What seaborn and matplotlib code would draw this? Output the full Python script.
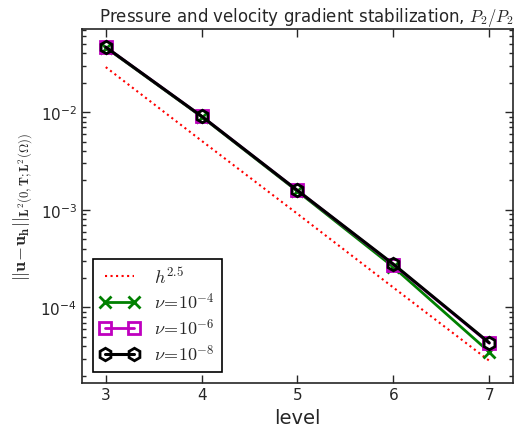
import numpy as np
import pandas as pd
import seaborn as sns
import matplotlib.pyplot as plt

levels = [3, 4, 5, 6, 7]
ref_h25 = [2.9e-2, 5.1e-3, 9.1e-4, 1.6e-4, 2.85e-5]
err_nu4 = [4.6e-2, 9.0e-3, 1.55e-3, 2.6e-4, 3.5e-5]
err_nu6 = [4.65e-2, 9.1e-3, 1.58e-3, 2.75e-4, 4.3e-5]
err_nu8 = [4.65e-2, 9.1e-3, 1.58e-3, 2.78e-4, 4.35e-5]


def main():
    sns.set_style("ticks")
    plt.rcParams['mathtext.fontset'] = 'cm'
    plt.rcParams['font.family'] = ['DejaVu Sans']
    plt.rcParams['xtick.direction'] = 'in'
    plt.rcParams['ytick.direction'] = 'in'
    plt.rcParams['xtick.top'] = True
    plt.rcParams['ytick.right'] = True

    fig, ax = plt.subplots(figsize=(5.21, 4.31), dpi=100)
    fig.subplots_adjust(left=0.157, right=0.985, top=0.93, bottom=0.11)

    sns.lineplot(ax=ax, x=levels, y=ref_h25, color='red', linestyle=':',
                 linewidth=1.5, label=r'$h^{2.5}$')
    sns.lineplot(ax=ax, x=levels, y=err_nu4, color='green', marker='x',
                 markersize=9, markeredgewidth=2, markeredgecolor='green',
                 linewidth=2, label=r'$\nu\!=\!10^{-4}$')
    sns.lineplot(ax=ax, x=levels, y=err_nu6, color='m', marker='s',
                 markersize=9, markeredgewidth=2, markerfacecolor='none',
                 markeredgecolor='m', linewidth=2, label=r'$\nu\!=\!10^{-6}$')
    sns.lineplot(ax=ax, x=levels, y=err_nu8, color='black', marker='h',
                 markersize=9, markeredgewidth=2, markerfacecolor='none',
                 markeredgecolor='black', linewidth=2.2,
                 label=r'$\nu\!=\!10^{-8}$')

    ax.set(yscale="log")
    ax.set_xlim(2.75, 7.25)
    ax.set_ylim(1.7e-5, 7.1e-2)
    ax.set_xticks(levels)
    ax.tick_params(which='major', length=6, width=1, labelsize=11)
    ax.tick_params(which='minor', length=3, width=1)
    for s in ax.spines.values():
        s.set_linewidth(1.2)
    ax.set_xlabel('level', fontsize=14)
    ax.set_ylabel(r'$||\mathbf{u}\!-\!\mathbf{u_h}||_{\mathbf{L}^2(0,\mathbf{T};\mathbf{L}^2(\Omega))}$',
                  fontsize=13)
    ax.set_title(r'Pressure and velocity gradient stabilization, $P_2/P_2$',
                 fontsize=12, x=0.52)
    leg = ax.legend(loc='lower left', fontsize=13, fancybox=False,
                    framealpha=1, edgecolor='black', handlelength=2.2,
                    numpoints=2, borderaxespad=0.6, labelspacing=0.3,
                    borderpad=0.4)
    leg.get_frame().set_linewidth(1.2)
    plt.savefig('out.png', dpi=100)
    return


if __name__ == "__main__":
    main()
